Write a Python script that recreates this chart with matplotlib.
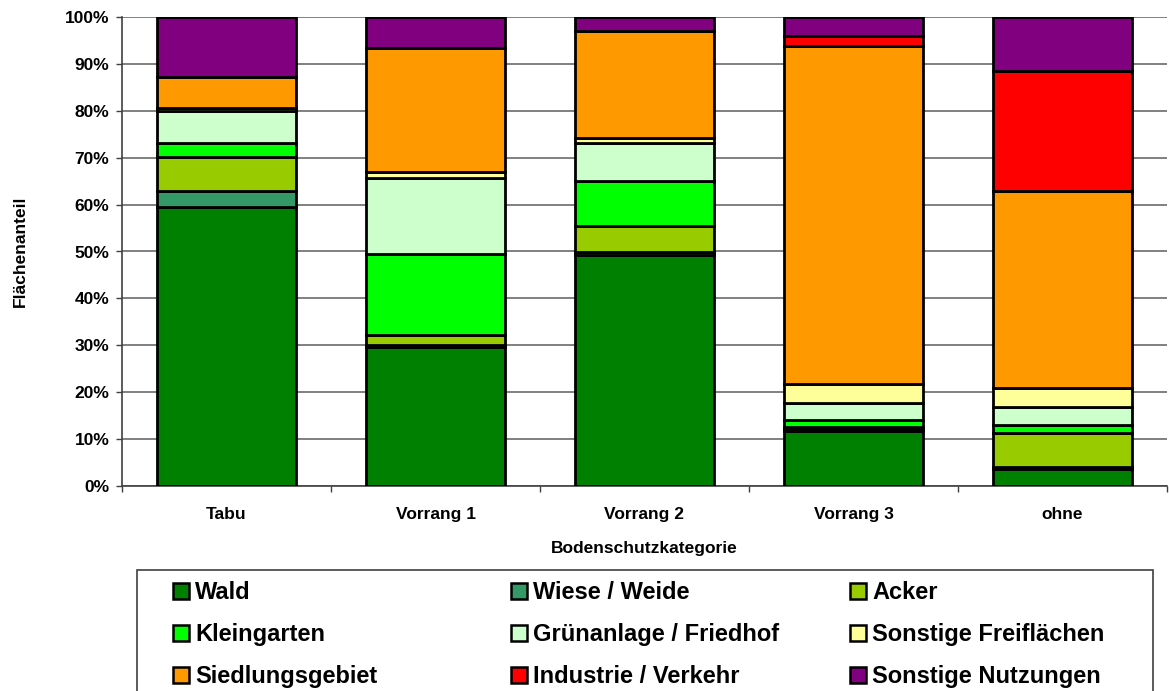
import numpy as np
import matplotlib.pyplot as plt
from matplotlib.patches import Rectangle
from matplotlib.ticker import FixedLocator, PercentFormatter

plt.rcParams["font.family"] = ["Liberation Sans", "DejaVu Sans"]
plt.rcParams["font.weight"] = "bold"

categories = ["Tabu", "Vorrang 1", "Vorrang 2", "Vorrang 3", "ohne"]
series_names = ["Wald", "Wiese / Weide", "Acker", "Kleingarten", "Grünanlage / Friedhof",
                "Sonstige Freiflächen", "Siedlungsgebiet", "Industrie / Verkehr", "Sonstige Nutzungen"]
series_colors = ["#008000", "#339966", "#99CC00", "#00FF00", "#CCFFCC",
                 "#FFFF99", "#FF9900", "#FF0000", "#800080"]

# Flächenanteil in % per Kategorie (Tabu, Vorrang 1, Vorrang 2, Vorrang 3, ohne)
wald = [59.4, 29.7, 49.3, 11.8, 3.6]
wiese = [3.6, 0.3, 0.7, 0.3, 0.4]
acker = [7.1, 2.3, 5.4, 0.5, 7.4]
kleingarten = [3.1, 17.2, 9.6, 1.5, 1.6]
gruenanlage = [6.8, 16.2, 8.1, 3.7, 3.9]
freiflaechen = [0.6, 1.2, 1.2, 3.9, 4.1]
siedlung = [6.7, 26.4, 22.8, 72.1, 41.9]
industrie = [0.0, 0.0, 0.0, 2.2, 25.6]
sonstige = [12.7, 6.7, 2.9, 4.0, 11.5]

series_values = [wald, wiese, acker, kleingarten, gruenanlage,
                 freiflaechen, siedlung, industrie, sonstige]

W, H = 1169, 691
fig = plt.figure(figsize=(W / 100, H / 100), dpi=100)
ax = fig.add_axes([122 / W, 1 - 486 / H, 1045 / W, 469 / H])

x = np.arange(len(categories)) + 0.5
bottom = np.zeros(len(categories))
for name, vals, col in zip(series_names, series_values, series_colors):
    vals = np.array(vals)
    ax.bar(x, vals, width=0.665, bottom=bottom, color=col, edgecolor="black",
           linewidth=2.0, label=name, zorder=3)
    bottom += vals

ax.set_xlim(0, len(categories))
ax.set_ylim(0, 100)
ax.yaxis.set_major_locator(FixedLocator(np.arange(0, 101, 10)))
ax.yaxis.set_major_formatter(PercentFormatter(decimals=0))
ax.grid(axis="y", color="#808080", linewidth=1.4, zorder=0)

ax.set_xticks(x)
ax.set_xticklabels(categories)
ax.set_xticks(np.arange(len(categories) + 1), minor=True)
ax.tick_params(axis="x", which="major", length=0, pad=15, labelsize=12.5)
ax.tick_params(axis="x", which="minor", length=4.3, width=1.0, color="#404040")
ax.tick_params(axis="y", length=4.3, width=1.0, color="#404040", labelsize=12.5, pad=4.8)

for side in ["top", "right"]:
    ax.spines[side].set_visible(False)
ax.spines["left"].set_color("#404040")
ax.spines["left"].set_linewidth(1.2)
ax.spines["bottom"].set_color("#404040")
ax.spines["bottom"].set_linewidth(1.2)

ax.set_xlabel("Bodenschutzkategorie", fontsize=12.5, fontweight="bold")
ax.xaxis.set_label_coords(0.5, (486 - 548) / 469)
ax.xaxis.label.set_verticalalignment("center")
ax.set_ylabel("Flächenanteil", fontsize=12.5, fontweight="bold")
ax.yaxis.set_label_coords((20 - 122) / 1045, 0.5)
ax.yaxis.label.set_verticalalignment("center")

# legend box, drawn by hand to match the three-column layout
fig.patches.append(Rectangle((137 / W, 1 - 710 / H), 1016 / W, 140 / H,
                             transform=fig.transFigure, facecolor="white",
                             edgecolor="#404040", linewidth=1.2))
col_x = [173, 511, 850]
row_base = [599, 641, 683]
for i, (name, col) in enumerate(zip(series_names, series_colors)):
    cx = col_x[i % 3]
    by = row_base[i // 3]
    fig.patches.append(Rectangle((cx / W, 1 - by / H), 16 / W, 16 / H,
                                 transform=fig.transFigure, facecolor=col,
                                 edgecolor="black", linewidth=1.8))
    fig.text((cx + 22) / W, 1 - by / H, name, fontsize=17, fontweight="bold",
             va="baseline", ha="left")

fig.savefig("out.png", dpi=100)
